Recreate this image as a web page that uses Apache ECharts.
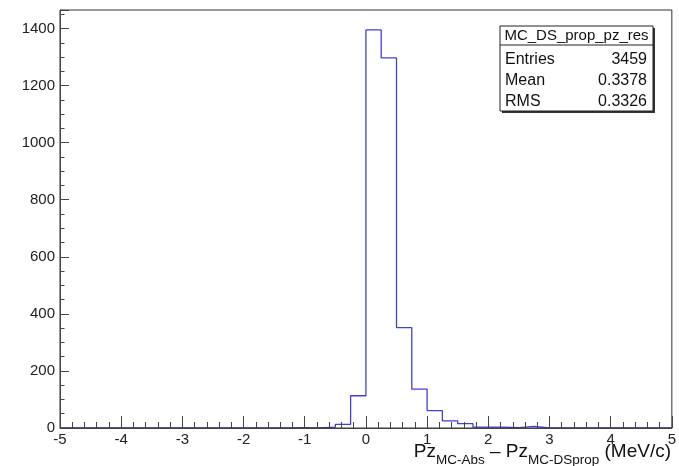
<!DOCTYPE html>
<html>
<head>
<meta charset="utf-8">
<script src="https://cdn.jsdelivr.net/npm/echarts@6/dist/echarts.min.js"></script>
<style>
  html, body { margin: 0; padding: 0; background: #fff; }
  #chart { width: 679px; height: 466px; }
</style>
</head>
<body>
<div id="chart"></div>
<script>
// Histogram: 40 bins of width 0.25 covering [-5, 5)
const binStart = -5;
const binWidth = 0.25;
const counts = [
  0, 0, 0, 0, 0, 0, 0, 0, 0, 0,        // -5.00 .. -2.75
  0, 0, 0, 0, 0, 1, 0, 3, 13, 113,     // -2.50 .. -0.25
  1395, 1297, 352, 136, 61, 25, 15, 3, 3, 1, // 0.00 .. 2.25
  6, 0, 0, 0, 0, 0, 0, 0, 0, 0         // 2.50 .. 4.75
];
const xTicks = [-5, -4, -3, -2, -1, 0, 1, 2, 3, 4, 5];
const yTicks = [0, 200, 400, 600, 800, 1000, 1200, 1400];

const statsTitle = 'MC_DS_prop_pz_res';
const statsNames = ['Entries', 'Mean', 'RMS'];
const statsValues = ['3459', '0.3378', '0.3326'];

// Outline of the histogram as a stepped polyline through the bin edges
const outline = [];
counts.forEach((c, i) => {
  const lo = binStart + i * binWidth;
  outline.push([lo, c]);
  outline.push([lo + binWidth, c]);
});

const yMax = 1465;
const axisColor = '#444';
const font = 'Liberation Sans, Arial, Helvetica, sans-serif';

const chart = echarts.init(document.getElementById('chart'), null, { renderer: 'canvas' });

// stats box geometry
const bx = 500, by = 26, bw = 153, bh = 85;
const rowY = [60, 81, 102];

const graphics = [
  { type: 'rect', shape: { x: bx + 2, y: by + 2, width: bw, height: bh }, style: { fill: '#333' }, z: 20 },
  { type: 'rect', shape: { x: bx, y: by, width: bw, height: bh }, style: { fill: '#fff', stroke: '#222', lineWidth: 1 }, z: 21 },
  { type: 'line', shape: { x1: bx, y1: by + 19, x2: bx + bw, y2: by + 19 }, style: { stroke: '#222', lineWidth: 1 }, z: 22 },
  { type: 'text', x: bx + bw / 2, y: by + 10, style: { text: statsTitle, font: '15px ' + font, fill: '#111', align: 'center', verticalAlign: 'middle' }, z: 22 }
];
statsNames.forEach((n, i) => {
  graphics.push({ type: 'text', x: bx + 5, y: rowY[i], style: { text: n, font: '16px ' + font, fill: '#111', align: 'left', verticalAlign: 'middle' }, z: 22 });
  graphics.push({ type: 'text', x: bx + bw - 6, y: rowY[i], style: { text: statsValues[i], font: '16px ' + font, fill: '#111', align: 'right', verticalAlign: 'middle' }, z: 22 });
});
// x-axis title with subscripts
graphics.push({
  type: 'text', right: 8, top: 442, z: 22,
  style: {
    text: '{a|Pz}{s|MC-Abs}{a| – Pz}{s|MC-DSprop}{a| (MeV/c)}',
    fill: '#111',
    rich: {
      a: { fontSize: 19, fontFamily: font, lineHeight: 22, verticalAlign: 'top', fill: '#111' },
      s: { fontSize: 13.5, fontFamily: font, lineHeight: 14, verticalAlign: 'top', padding: [11, 0, 0, 0], fill: '#111' }
    }
  }
});

const option = {
  animation: false,
  backgroundColor: '#fff',
  grid: { left: 60, top: 10, right: 6, bottom: 38, show: true, borderColor: '#333', borderWidth: 1, backgroundColor: 'transparent', z: 5 },
  xAxis: {
    type: 'value', min: xTicks[0], max: xTicks[xTicks.length - 1], interval: 1, z: 10,
    axisLine: { show: true, onZero: false, lineStyle: { color: axisColor, width: 1 } },
    axisTick: { show: true, inside: true, length: 12, lineStyle: { color: axisColor } },
    minorTick: { show: true, splitNumber: 5, length: 6, lineStyle: { color: axisColor } },
    splitLine: { show: false }, minorSplitLine: { show: false },
    axisLabel: { margin: 4, fontSize: 15, fontFamily: font, color: '#222', formatter: v => String(v) }
  },
  yAxis: [
    {
      type: 'value', min: 0, max: yMax, interval: 200, z: 10,
      axisLine: { show: true, onZero: false, lineStyle: { color: axisColor, width: 1 } },
      axisTick: { show: true, inside: true, length: 9, lineStyle: { color: axisColor } },
      splitLine: { show: false },
      axisLabel: {
        margin: 5, fontSize: 15, fontFamily: font, color: '#222',
        formatter: v => (yTicks.indexOf(v) >= 0 ? String(v) : '')
      }
    },
    {
      type: 'value', min: 0, max: yMax, interval: 50, position: 'left', z: 10,
      axisLine: { show: false, onZero: false },
      axisTick: { show: true, inside: true, length: 4.5, lineStyle: { color: axisColor } },
      splitLine: { show: false },
      axisLabel: { show: false }
    }
  ],
  series: [{
    type: 'line', yAxisIndex: 0, data: outline, symbol: 'none', z: 3,
    lineStyle: { color: '#4040d8', width: 1.3 },
    silent: true
  }],
  graphic: graphics
};
chart.setOption(option);
</script>
</body>
</html>
